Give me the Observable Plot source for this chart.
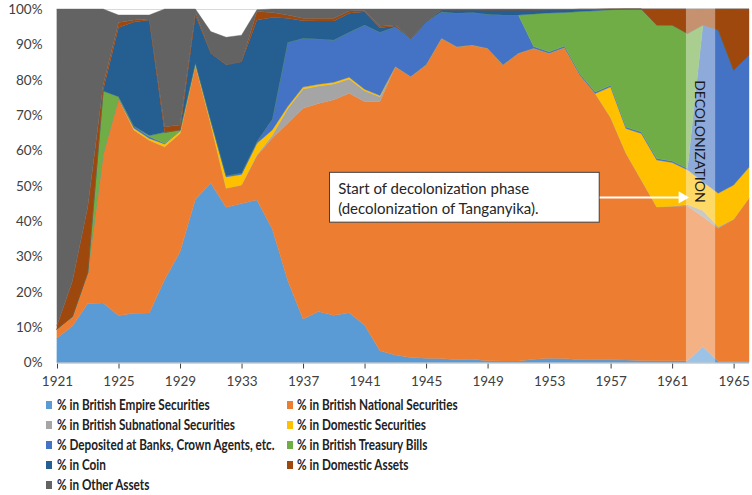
<!DOCTYPE html>
<html><head><meta charset="utf-8">
<script src="https://cdn.jsdelivr.net/npm/d3@7"></script>
<script src="https://cdn.jsdelivr.net/npm/@observablehq/plot@0.6"></script>
<style>
body{margin:0;background:#fff;font-family:Lato,sans-serif;}
#chart{position:relative;width:752px;}
#legend{position:relative;width:752px;height:103px;}
.sw{position:absolute;width:6px;height:8px;}
.lt{position:absolute;white-space:nowrap;font:700 14.5px Lato,sans-serif;line-height:18px;color:#222;transform-origin:0 50%;}
</style></head><body>
<div id="chart"></div>
<div id="legend"></div>
<script>
const years = [1921,1922,1923,1924,1925,1926,1927,1928,1929,1930,1931,1932,1933,1934,1935,1936,1937,1938,1939,1940,1941,1942,1943,1944,1945,1946,1947,1948,1949,1950,1951,1952,1953,1954,1955,1956,1957,1958,1959,1960,1961,1962,1963,1964,1965,1966];
const xTicks = [1921,1925,1929,1933,1937,1941,1945,1949,1953,1957,1961,1965];
const yTicks = [0,10,20,30,40,50,60,70,80,90,100];

const seriesNames = [
  "% in British Empire Securities",
  "% in British National Securities",
  "% in British Subnational Securities",
  "% in Domestic Securities",
  "% Deposited at Banks, Crown Agents, etc.",
  "% in British Treasury Bills",
  "% in Coin",
  "% in Domestic Assets",
  "% in Other Assets"
];
const seriesColors = ["#5B9BD5","#ED7D31","#A5A5A5","#FFC000","#4472C4","#70AD47","#255E91","#9E480E","#636363"];

const empireSec = [6.9,10.3,16.7,16.8,13.3,13.9,14.0,23.5,31.3,46.2,50.7,43.9,45.0,46.0,37.8,23.3,12.3,14.4,13.4,14.1,10.6,3.3,2.1,1.4,1.2,1.1,0.8,0.9,0.5,0.4,0.4,0.9,1.2,1.1,0.8,0.8,0.8,0.7,0.6,0.5,0.5,0.5,4.5,0.3,0.2,0.2];
const nationalSec = [2.6,2.7,8.8,42.2,61.4,51.9,48.9,37.5,33.5,38.0,16.8,5.4,5.2,12.5,25.7,44.4,59.6,58.9,60.9,62.1,63.2,70.5,81.6,79.5,83.0,90.6,88.5,88.9,88.4,83.8,87.1,88.0,86.3,88.0,80.5,75.3,68.5,58.5,51.0,43.5,43.7,43.8,36.7,37.7,40.3,46.3];
const subnationalSec = [0,0,0,0,0,0,0,0,0,0,0,0,0,0.3,0.8,4.1,5.5,4.9,4.5,4.0,3.1,1.4,0,0,0,0,0,0,0,0,0,0,0,0,0,0,0,0,0,0,0,0.4,1.8,0.4,0,0];
const domesticSec = [0,0,0,0,0,0.5,0.5,0.8,0.7,0.6,1.0,3.2,3.0,3.2,1.5,0.6,0.5,0.5,0.5,0.5,0.4,0.3,0,0,0,0,0,0,0,0,0,0,0,0,0,0,8.7,7.0,13.2,13.3,12.4,9.8,8.1,9.5,9.7,8.7];
const deposited = [0,0,0,0,0,0.6,0.5,0.2,0,0,0,0.3,0.4,0.5,3.0,18.1,13.8,12.8,11.9,12.7,18.2,17.9,11.3,10.8,12.2,7.5,9.5,9.2,9.6,14.1,10.8,0.5,0.4,0.4,0.4,0.4,0.4,0.4,0.4,0.4,0.4,0.4,44.4,46.2,32.5,31.8];
const treasuryBills = [0,0,0,17.8,0.5,0,0.3,3.1,0.3,0,0,0,0,0,0,0,0,0,0,0,0,0,0,0,0,0,0,0,0,0,0,9.2,11.0,9.5,17.6,23.0,21.4,33.4,34.8,37.8,38.5,38.2,0,0,0,0];
const coin = [0,0,0,0.3,19.6,29.4,32.7,0,0,13.5,19.0,31.4,31.5,34.4,28.8,6.9,5.0,5.1,5.4,5.4,3.7,1.3,0.2,0,0,0.6,0.9,0.8,1.2,1.4,1.4,1.1,0.9,0.8,0.6,0.4,0.2,0,0,0,0,0,0,0,0,0];
const domesticAssets = [1.0,10.0,18.5,1.4,1.4,0.6,0.3,1.6,1.4,0.8,0,0,0,2.4,1.4,0.9,0.7,0.8,0.8,0.6,0.4,0.4,0.3,0,0,0,0,0,0,0,0,0,0,0,0,0,0,0,0,4.5,4.5,6.9,4.5,5.9,17.3,13.0];
const otherAssets = [89.5,77.0,56.0,21.5,2.1,1.4,1.1,33.3,32.8,0.9,6.1,7.8,7.5,0.5,1.0,1.7,2.6,2.6,2.6,0.6,0.4,4.9,4.5,8.3,3.6,0.2,0.3,0.2,0.3,0.3,0.3,0.3,0.2,0.2,0.1,0.1,0,0,0,0,0,0,0,0,0,0];

const seriesValues = [empireSec,nationalSec,subnationalSec,domesticSec,deposited,treasuryBills,coin,domesticAssets,otherAssets];

// annotation (decolonization band and note)
const decolonization = [{start:1961.9, end:1963.8, label:"DECOLONIZATION", labelX:1962.72, labelY:62.7}];
const note = [{x1:1938.72, x2:1956.26, y1:39.7, y2:53.8, tx:1939.25, ty:46.9,
  text:"Start of decolonization phase\n(decolonization of Tanganyika).",
  arrowFrom:1956.26, arrowTo:1961.55, arrowY:46.85, headX:1961.62}];

const rows = [];
years.forEach((yr,i)=>seriesNames.forEach((s,j)=>rows.push({year:yr, series:s, value:seriesValues[j][i]})));

const chart = Plot.plot({
  width:752, height:392,
  marginLeft:57, marginRight:3, marginTop:9, marginBottom:29.5,
  style:{fontFamily:"Lato, sans-serif", fontSize:"13.5px", color:"#404040", background:"#fff"},
  x:{domain:[1921,1966], ticks:xTicks, tickFormat:d=>String(d), tickSize:6, tickPadding:7, label:null},
  y:{domain:[0,100], ticks:yTicks, tickFormat:d=>d+"%", tickSize:0, tickPadding:15, label:null},
  color:{domain:seriesNames, range:seriesColors},
  marks:[
    Plot.ruleY(yTicks,{stroke:"#D9D9D9"}),
    Plot.areaY(rows,{x:"year", y:"value", fill:"series", stroke:"series", strokeWidth:0.4, order:seriesNames, curve:"linear"}),
    Plot.ruleY([0],{stroke:"#BFBFBF"}),
    Plot.rect(decolonization,{x1:"start", x2:"end", y1:0, y2:101.1, fill:"white", fillOpacity:0.4}),
    Plot.text(decolonization,{x:"labelX", y:"labelY", text:"label", rotate:90, fontSize:14, fill:"#1a1a1a"}),
    Plot.rect(note,{x1:"x1", x2:"x2", y1:"y1", y2:"y2", fill:"white", stroke:"#404040", strokeWidth:1}),
    Plot.text(note,{x:"tx", y:"ty", text:"text", textAnchor:"start", lineAnchor:"middle", lineHeight:1.33, fontSize:15, fill:"#262626"}),
    Plot.link(note,{x1:"arrowFrom", x2:"arrowTo", y1:"arrowY", y2:"arrowY", stroke:"white", strokeWidth:2}),
    Plot.dot(note,{x:"headX", y:"arrowY", symbol:"triangle", rotate:90, r:4.5, fill:"white", stroke:"none"})
  ]
});
document.getElementById("chart").appendChild(chart);

// legend
const legend = document.getElementById("legend");
const ctx = document.createElement("canvas").getContext("2d");
ctx.font = "700 14.5px Lato";
const k = 152.6 / ctx.measureText(seriesNames[0]).width;
const rowCenters = [13,33,53,73,93];
seriesNames.forEach((name,i)=>{
  const col = i%2, row = Math.floor(i/2);
  const sw = document.createElement("div");
  sw.className = "sw";
  sw.style.background = seriesColors[i];
  sw.style.left = (col ? 287 : 46) + "px";
  sw.style.top = (rowCenters[row]-4) + "px";
  legend.appendChild(sw);
  const t = document.createElement("div");
  t.className = "lt";
  t.textContent = name;
  t.style.left = (col ? 297 : 56.5) + "px";
  t.style.top = (rowCenters[row]-9) + "px";
  t.style.transform = "scaleX(" + k + ")";
  legend.appendChild(t);
});
</script>
</body></html>
